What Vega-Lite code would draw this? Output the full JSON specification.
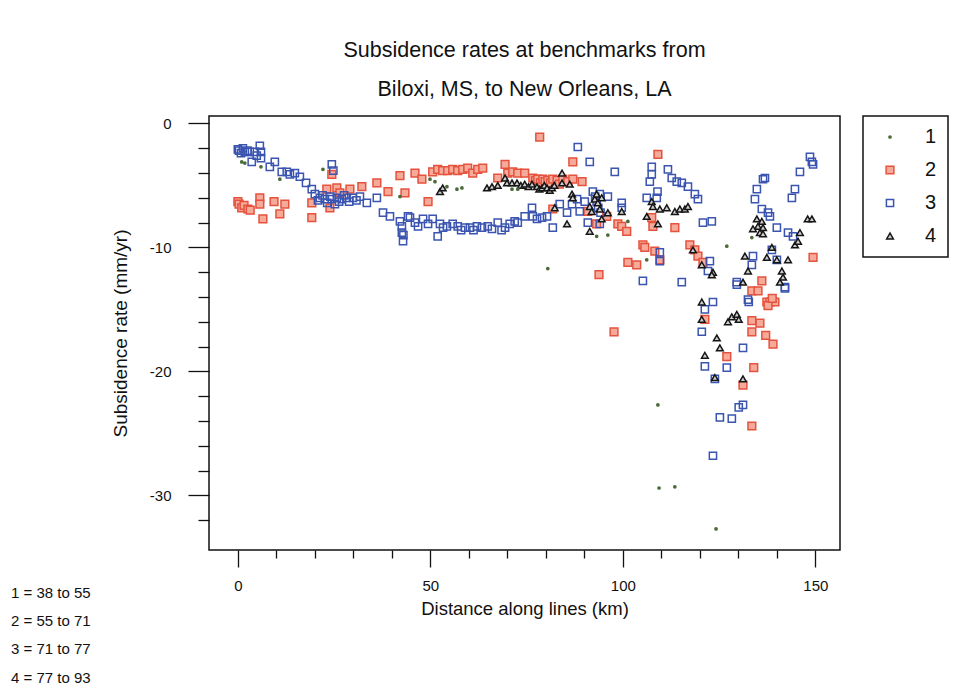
{
  "$schema": "https://vega.github.io/schema/vega-lite/v6.json",
  "autosize": {"type": "none"},
  "padding": {"left": 209, "top": 116, "right": 129, "bottom": 138},
  "width": 631,
  "height": 434,
  "background": "white",
  "title": {
    "text": ["Subsidence rates at benchmarks from", "Biloxi, MS, to New Orleans, LA"],
    "font": "Liberation Sans",
    "fontSize": 21.5,
    "fontWeight": "normal",
    "color": "#111",
    "lineHeight": 39,
    "anchor": "middle",
    "frame": "group",
    "offset": 15
  },
  "datasets": {
    "notes": [
      {"series": 1, "range": "1 = 38 to 55"},
      {"series": 2, "range": "2 = 55 to 71"},
      {"series": 3, "range": "3 = 71 to 77"},
      {"series": 4, "range": "4 = 77 to 93"}
    ]
  },
  "data": {
    "values": [
      {"series":2,"km":0.0,"rate":-6.3},{"series":2,"km":0.3,"rate":-6.5},{"series":2,"km":1.0,"rate":-6.8},{"series":2,"km":1.6,"rate":-6.6},{"series":2,"km":2.6,"rate":-6.9},{"series":2,"km":3.2,"rate":-7.0},{"series":2,"km":5.7,"rate":-6.0},{"series":2,"km":5.7,"rate":-6.5},{"series":2,"km":6.5,"rate":-7.7},{"series":2,"km":9.4,"rate":-6.3},{"series":2,"km":10.9,"rate":-7.3},{"series":2,"km":12.2,"rate":-6.5},{"series":2,"km":19.2,"rate":-7.6},{"series":2,"km":19.2,"rate":-6.4},{"series":2,"km":23.9,"rate":-6.8},{"series":2,"km":23.1,"rate":-5.3},{"series":2,"km":24.4,"rate":-4.1},{"series":2,"km":25.7,"rate":-5.2},{"series":2,"km":26.5,"rate":-5.6},{"series":2,"km":29.1,"rate":-5.3},{"series":2,"km":32.2,"rate":-5.1},{"series":2,"km":36.1,"rate":-4.8},{"series":2,"km":39.0,"rate":-5.5},{"series":2,"km":42.1,"rate":-4.2},{"series":2,"km":43.4,"rate":-5.6},{"series":2,"km":46.0,"rate":-4.0},{"series":2,"km":47.8,"rate":-4.5},{"series":2,"km":49.4,"rate":-6.3},{"series":2,"km":50.6,"rate":-3.9},{"series":2,"km":51.9,"rate":-3.7},{"series":2,"km":53.2,"rate":-3.8},{"series":2,"km":54.5,"rate":-3.8},{"series":2,"km":55.8,"rate":-3.7},{"series":2,"km":57.1,"rate":-3.8},{"series":2,"km":58.4,"rate":-3.7},{"series":2,"km":59.7,"rate":-3.6},{"series":2,"km":61.0,"rate":-4.0},{"series":2,"km":62.3,"rate":-3.7},{"series":2,"km":63.6,"rate":-3.6},{"series":2,"km":67.5,"rate":-4.4},{"series":2,"km":69.4,"rate":-3.3},{"series":2,"km":70.1,"rate":-4.0},{"series":2,"km":71.4,"rate":-3.9},{"series":2,"km":72.7,"rate":-4.0},{"series":2,"km":74.5,"rate":-4.0},{"series":2,"km":76.6,"rate":-4.4},{"series":2,"km":77.3,"rate":-4.6},{"series":2,"km":77.9,"rate":-4.5},{"series":2,"km":78.6,"rate":-4.8},{"series":2,"km":79.2,"rate":-4.5},{"series":2,"km":79.8,"rate":-4.7},{"series":2,"km":80.5,"rate":-4.6},{"series":2,"km":81.2,"rate":-4.8},{"series":2,"km":81.8,"rate":-4.5},{"series":2,"km":82.9,"rate":-4.6},{"series":2,"km":83.5,"rate":-4.9},{"series":2,"km":84.4,"rate":-4.5},{"series":2,"km":85.7,"rate":-4.7},{"series":2,"km":87.0,"rate":-4.5},{"series":2,"km":78.4,"rate":-1.1},{"series":2,"km":87.0,"rate":-3.1},{"series":2,"km":89.4,"rate":-4.7},{"series":2,"km":81.8,"rate":-6.9},{"series":2,"km":90.9,"rate":-7.1},{"series":2,"km":93.2,"rate":-8.1},{"series":2,"km":93.8,"rate":-12.2},{"series":2,"km":98.7,"rate":-8.1},{"series":2,"km":97.7,"rate":-16.8},{"series":2,"km":109.1,"rate":-2.5},{"series":2,"km":95.8,"rate":-7.5},{"series":2,"km":99.7,"rate":-8.3},{"series":2,"km":101.0,"rate":-8.7},{"series":2,"km":107.5,"rate":-7.6},{"series":2,"km":107.8,"rate":-8.3},{"series":2,"km":113.5,"rate":-8.4},{"series":2,"km":105.2,"rate":-9.8},{"series":2,"km":105.7,"rate":-10.0},{"series":2,"km":108.3,"rate":-10.3},{"series":2,"km":101.3,"rate":-11.2},{"series":2,"km":103.6,"rate":-11.4},{"series":2,"km":117.4,"rate":-9.8},{"series":2,"km":118.7,"rate":-10.2},{"series":2,"km":119.5,"rate":-10.7},{"series":2,"km":120.8,"rate":-11.2},{"series":2,"km":109.6,"rate":-11.0},{"series":2,"km":136.1,"rate":-12.7},{"series":2,"km":133.5,"rate":-13.5},{"series":2,"km":135.1,"rate":-13.5},{"series":2,"km":137.4,"rate":-14.4},{"series":2,"km":138.2,"rate":-14.4},{"series":2,"km":139.5,"rate":-14.4},{"series":2,"km":137.7,"rate":-14.7},{"series":2,"km":138.8,"rate":-14.1},{"series":2,"km":149.4,"rate":-10.8},{"series":2,"km":133.5,"rate":-15.9},{"series":2,"km":135.6,"rate":-16.1},{"series":2,"km":133.5,"rate":-16.8},{"series":2,"km":137.1,"rate":-17.1},{"series":2,"km":139.0,"rate":-17.8},{"series":2,"km":127.0,"rate":-18.8},{"series":2,"km":134.0,"rate":-19.7},{"series":2,"km":131.2,"rate":-21.1},{"series":2,"km":133.5,"rate":-24.4},{"series":2,"km":121.3,"rate":-15.8},
      {"series":3,"km":0.0,"rate":-2.1},{"series":3,"km":0.3,"rate":-2.2},{"series":3,"km":0.8,"rate":-2.4},{"series":3,"km":1.3,"rate":-2.0},{"series":3,"km":1.8,"rate":-2.3},{"series":3,"km":2.5,"rate":-2.2},{"series":3,"km":3.1,"rate":-2.3},{"series":3,"km":3.6,"rate":-3.1},{"series":3,"km":4.4,"rate":-2.3},{"series":3,"km":4.9,"rate":-2.6},{"series":3,"km":5.7,"rate":-1.8},{"series":3,"km":6.0,"rate":-2.3},{"series":3,"km":6.0,"rate":-2.8},{"series":3,"km":8.3,"rate":-3.5},{"series":3,"km":9.6,"rate":-3.1},{"series":3,"km":11.4,"rate":-3.9},{"series":3,"km":12.7,"rate":-3.9},{"series":3,"km":13.5,"rate":-4.1},{"series":3,"km":14.8,"rate":-4.0},{"series":3,"km":16.1,"rate":-4.3},{"series":3,"km":17.7,"rate":-4.8},{"series":3,"km":19.2,"rate":-5.3},{"series":3,"km":20.0,"rate":-5.7},{"series":3,"km":20.8,"rate":-6.2},{"series":3,"km":21.3,"rate":-6.0},{"series":3,"km":22.0,"rate":-5.8},{"series":3,"km":22.6,"rate":-6.1},{"series":3,"km":23.2,"rate":-6.4},{"series":3,"km":24.0,"rate":-5.9},{"series":3,"km":24.4,"rate":-6.1},{"series":3,"km":24.4,"rate":-3.3},{"series":3,"km":24.8,"rate":-3.8},{"series":3,"km":25.2,"rate":-6.5},{"series":3,"km":25.7,"rate":-6.0},{"series":3,"km":26.3,"rate":-6.3},{"series":3,"km":27.0,"rate":-6.1},{"series":3,"km":27.6,"rate":-5.8},{"series":3,"km":28.3,"rate":-6.0},{"series":3,"km":28.9,"rate":-6.3},{"series":3,"km":29.9,"rate":-6.0},{"series":3,"km":30.8,"rate":-6.2},{"series":3,"km":31.7,"rate":-5.9},{"series":3,"km":33.5,"rate":-6.4},{"series":3,"km":36.1,"rate":-6.0},{"series":3,"km":37.7,"rate":-7.2},{"series":3,"km":39.5,"rate":-7.5},{"series":3,"km":42.1,"rate":-7.9},{"series":3,"km":42.6,"rate":-8.3},{"series":3,"km":42.6,"rate":-8.8},{"series":3,"km":42.9,"rate":-9.5},{"series":3,"km":43.0,"rate":-9.0},{"series":3,"km":44.2,"rate":-7.5},{"series":3,"km":44.7,"rate":-7.6},{"series":3,"km":46.0,"rate":-8.0},{"series":3,"km":46.8,"rate":-8.3},{"series":3,"km":48.1,"rate":-7.7},{"series":3,"km":49.4,"rate":-8.1},{"series":3,"km":50.6,"rate":-7.7},{"series":3,"km":51.9,"rate":-9.1},{"series":3,"km":52.5,"rate":-8.1},{"series":3,"km":53.3,"rate":-8.4},{"series":3,"km":54.3,"rate":-8.3},{"series":3,"km":55.8,"rate":-8.1},{"series":3,"km":57.1,"rate":-8.3},{"series":3,"km":58.0,"rate":-8.6},{"series":3,"km":59.0,"rate":-8.4},{"series":3,"km":60.3,"rate":-8.4},{"series":3,"km":61.2,"rate":-8.6},{"series":3,"km":62.1,"rate":-8.3},{"series":3,"km":63.4,"rate":-8.4},{"series":3,"km":64.9,"rate":-8.3},{"series":3,"km":66.0,"rate":-8.5},{"series":3,"km":67.5,"rate":-8.0},{"series":3,"km":68.5,"rate":-8.6},{"series":3,"km":69.4,"rate":-8.4},{"series":3,"km":70.6,"rate":-8.1},{"series":3,"km":71.9,"rate":-7.9},{"series":3,"km":72.7,"rate":-8.0},{"series":3,"km":74.5,"rate":-7.5},{"series":3,"km":76.4,"rate":-6.8},{"series":3,"km":76.6,"rate":-7.5},{"series":3,"km":77.7,"rate":-7.7},{"series":3,"km":79.0,"rate":-7.6},{"series":3,"km":80.3,"rate":-7.5},{"series":3,"km":81.8,"rate":-8.4},{"series":3,"km":83.6,"rate":-6.5},{"series":3,"km":85.5,"rate":-7.2},{"series":3,"km":86.8,"rate":-6.5},{"series":3,"km":88.1,"rate":-6.1},{"series":3,"km":88.8,"rate":-7.1},{"series":3,"km":90.1,"rate":-6.3},{"series":3,"km":88.3,"rate":-1.9},{"series":3,"km":91.4,"rate":-3.1},{"series":3,"km":92.2,"rate":-5.5},{"series":3,"km":92.8,"rate":-5.9},{"series":3,"km":93.2,"rate":-6.3},{"series":3,"km":93.6,"rate":-6.8},{"series":3,"km":94.0,"rate":-5.7},{"series":3,"km":94.2,"rate":-7.2},{"series":3,"km":90.9,"rate":-8.0},{"series":3,"km":94.0,"rate":-8.1},{"series":3,"km":96.1,"rate":-5.9},{"series":3,"km":97.9,"rate":-3.9},{"series":3,"km":99.7,"rate":-6.4},{"series":3,"km":99.7,"rate":-6.8},{"series":3,"km":107.5,"rate":-3.5},{"series":3,"km":107.5,"rate":-4.1},{"series":3,"km":107.0,"rate":-4.7},{"series":3,"km":109.0,"rate":-5.5},{"series":3,"km":106.2,"rate":-6.0},{"series":3,"km":108.8,"rate":-6.0},{"series":3,"km":111.7,"rate":-3.7},{"series":3,"km":112.7,"rate":-4.4},{"series":3,"km":114.0,"rate":-4.7},{"series":3,"km":115.3,"rate":-4.8},{"series":3,"km":116.9,"rate":-5.1},{"series":3,"km":118.7,"rate":-5.7},{"series":3,"km":119.5,"rate":-6.1},{"series":3,"km":120.8,"rate":-8.0},{"series":3,"km":123.1,"rate":-7.9},{"series":3,"km":109.6,"rate":-10.4},{"series":3,"km":109.6,"rate":-11.1},{"series":3,"km":105.2,"rate":-12.7},{"series":3,"km":115.3,"rate":-12.8},{"series":3,"km":122.6,"rate":-11.1},{"series":3,"km":122.1,"rate":-11.9},{"series":3,"km":123.4,"rate":-14.4},{"series":3,"km":129.6,"rate":-12.8},{"series":3,"km":132.5,"rate":-14.2},{"series":3,"km":133.5,"rate":-11.4},{"series":3,"km":133.8,"rate":-10.7},{"series":3,"km":134.3,"rate":-6.1},{"series":3,"km":134.8,"rate":-5.3},{"series":3,"km":136.4,"rate":-4.5},{"series":3,"km":136.9,"rate":-4.4},{"series":3,"km":136.1,"rate":-6.9},{"series":3,"km":137.7,"rate":-7.2},{"series":3,"km":138.2,"rate":-7.5},{"series":3,"km":140.0,"rate":-8.4},{"series":3,"km":138.7,"rate":-10.2},{"series":3,"km":140.0,"rate":-11.0},{"series":3,"km":142.1,"rate":-13.2},{"series":3,"km":142.9,"rate":-8.8},{"series":3,"km":144.2,"rate":-9.1},{"series":3,"km":143.9,"rate":-6.0},{"series":3,"km":144.7,"rate":-5.3},{"series":3,"km":146.0,"rate":-3.9},{"series":3,"km":148.6,"rate":-2.7},{"series":3,"km":149.1,"rate":-3.1},{"series":3,"km":149.4,"rate":-3.3},{"series":3,"km":121.3,"rate":-15.0},{"series":3,"km":120.5,"rate":-16.8},{"series":3,"km":131.2,"rate":-18.1},{"series":3,"km":121.3,"rate":-19.6},{"series":3,"km":127.0,"rate":-19.7},{"series":3,"km":123.9,"rate":-20.6},{"series":3,"km":131.2,"rate":-22.7},{"series":3,"km":130.1,"rate":-22.9},{"series":3,"km":125.2,"rate":-23.7},{"series":3,"km":128.3,"rate":-23.8},{"series":3,"km":123.4,"rate":-26.8},{"series":3,"km":129.6,"rate":-13.0},{"series":3,"km":132.7,"rate":-14.4},{"series":3,"km":142.1,"rate":-13.3},
      {"series":4,"km":52.5,"rate":-5.5},{"series":4,"km":53.2,"rate":-5.2},{"series":4,"km":64.7,"rate":-5.2},{"series":4,"km":66.0,"rate":-5.1},{"series":4,"km":67.5,"rate":-5.0},{"series":4,"km":69.4,"rate":-4.4},{"series":4,"km":69.9,"rate":-4.8},{"series":4,"km":71.2,"rate":-4.8},{"series":4,"km":72.5,"rate":-4.8},{"series":4,"km":73.5,"rate":-5.0},{"series":4,"km":74.5,"rate":-4.9},{"series":4,"km":75.5,"rate":-5.1},{"series":4,"km":76.4,"rate":-4.9},{"series":4,"km":77.7,"rate":-5.1},{"series":4,"km":78.3,"rate":-5.3},{"series":4,"km":79.0,"rate":-5.2},{"series":4,"km":79.6,"rate":-5.0},{"series":4,"km":80.3,"rate":-5.2},{"series":4,"km":81.0,"rate":-5.4},{"series":4,"km":81.6,"rate":-5.2},{"series":4,"km":82.2,"rate":-5.0},{"series":4,"km":84.2,"rate":-4.0},{"series":4,"km":84.2,"rate":-4.8},{"series":4,"km":86.2,"rate":-4.9},{"series":4,"km":86.8,"rate":-5.7},{"series":4,"km":82.3,"rate":-6.8},{"series":4,"km":85.5,"rate":-8.1},{"series":4,"km":87.0,"rate":-6.0},{"series":4,"km":91.4,"rate":-6.7},{"series":4,"km":91.9,"rate":-7.1},{"series":4,"km":92.7,"rate":-6.1},{"series":4,"km":93.2,"rate":-5.7},{"series":4,"km":93.5,"rate":-6.4},{"series":4,"km":94.0,"rate":-6.9},{"series":4,"km":91.4,"rate":-8.7},{"series":4,"km":96.1,"rate":-7.2},{"series":4,"km":94.5,"rate":-7.7},{"series":4,"km":99.7,"rate":-7.1},{"series":4,"km":94.5,"rate":-6.0},{"series":4,"km":106.2,"rate":-7.5},{"series":4,"km":107.5,"rate":-6.3},{"series":4,"km":107.8,"rate":-6.7},{"series":4,"km":109.1,"rate":-8.1},{"series":4,"km":109.6,"rate":-6.9},{"series":4,"km":111.4,"rate":-6.8},{"series":4,"km":113.5,"rate":-7.1},{"series":4,"km":114.8,"rate":-6.9},{"series":4,"km":116.1,"rate":-6.9},{"series":4,"km":116.9,"rate":-6.7},{"series":4,"km":118.2,"rate":-10.2},{"series":4,"km":120.5,"rate":-11.4},{"series":4,"km":123.4,"rate":-12.0},{"series":4,"km":134.8,"rate":-7.7},{"series":4,"km":136.1,"rate":-7.9},{"series":4,"km":135.1,"rate":-8.3},{"series":4,"km":136.4,"rate":-8.4},{"series":4,"km":133.8,"rate":-8.5},{"series":4,"km":135.6,"rate":-8.8},{"series":4,"km":136.4,"rate":-8.9},{"series":4,"km":138.7,"rate":-10.0},{"series":4,"km":140.0,"rate":-11.0},{"series":4,"km":142.9,"rate":-11.0},{"series":4,"km":141.3,"rate":-11.9},{"series":4,"km":141.6,"rate":-12.4},{"series":4,"km":140.8,"rate":-12.8},{"series":4,"km":144.7,"rate":-9.8},{"series":4,"km":145.5,"rate":-9.5},{"series":4,"km":146.0,"rate":-8.8},{"series":4,"km":148.0,"rate":-7.7},{"series":4,"km":149.1,"rate":-7.7},{"series":4,"km":131.2,"rate":-12.8},{"series":4,"km":120.5,"rate":-14.4},{"series":4,"km":131.7,"rate":-10.7},{"series":4,"km":123.1,"rate":-12.2},{"series":4,"km":132.5,"rate":-11.9},{"series":4,"km":137.4,"rate":-10.8},{"series":4,"km":120.5,"rate":-15.8},{"series":4,"km":127.3,"rate":-16.0},{"series":4,"km":128.3,"rate":-15.6},{"series":4,"km":129.6,"rate":-15.4},{"series":4,"km":130.1,"rate":-15.8},{"series":4,"km":124.4,"rate":-17.3},{"series":4,"km":125.2,"rate":-18.1},{"series":4,"km":121.3,"rate":-18.7},{"series":4,"km":131.2,"rate":-20.6},{"series":4,"km":123.9,"rate":-20.5},
      {"series":1,"km":1.0,"rate":-3.1},{"series":1,"km":1.8,"rate":-3.2},{"series":1,"km":6.0,"rate":-3.5},{"series":1,"km":10.9,"rate":-4.5},{"series":1,"km":22.1,"rate":-3.7},{"series":1,"km":42.1,"rate":-5.9},{"series":1,"km":49.9,"rate":-4.5},{"series":1,"km":51.2,"rate":-4.7},{"series":1,"km":54.3,"rate":-5.1},{"series":1,"km":56.9,"rate":-5.3},{"series":1,"km":58.2,"rate":-5.2},{"series":1,"km":71.2,"rate":-5.3},{"series":1,"km":72.7,"rate":-5.3},{"series":1,"km":93.2,"rate":-9.1},{"series":1,"km":96.1,"rate":-9.0},{"series":1,"km":80.5,"rate":-11.7},{"series":1,"km":101.3,"rate":-7.9},{"series":1,"km":106.2,"rate":-11.0},{"series":1,"km":127.0,"rate":-9.9},{"series":1,"km":133.5,"rate":-9.2},{"series":1,"km":109.1,"rate":-22.7},{"series":1,"km":109.4,"rate":-29.4},{"series":1,"km":113.5,"rate":-29.3},{"series":1,"km":124.2,"rate":-32.7}
    ]
  },
  "transform": [
    {"lookup": "series", "from": {"data": {"name": "notes"}, "key": "series", "fields": ["range"]}}
  ],
  "mark": {"type": "point", "strokeWidth": 1.5, "opacity": 1},
  "encoding": {
    "x": {
      "field": "km", "type": "quantitative",
      "scale": {"domain": [-7.5, 156.4], "nice": false, "zero": false},
      "axis": {
        "values": [0,10,20,30,40,50,60,70,80,90,100,110,120,130,140,150],
        "domain": false, "grid": false,
        "title": "Distance along lines (km)",
        "titleFont": "Liberation Sans", "titleFontSize": 18.5, "titleFontWeight": "normal", "titleColor": "#111", "titlePadding": 6,
        "labelFont": "Liberation Sans", "labelFontSize": 15, "labelColor": "#111", "labelPadding": 11,
        "labelExpr": "datum.value % 50 === 0 ? '' + datum.value : ''",
        "labelOverlap": false, "labelFlush": false,
        "tickColor": "#111", "tickWidth": 1.3,
        "tickSize": {"condition": {"test": "datum.value % 50 === 0", "value": 17}, "value": 8}
      }
    },
    "y": {
      "field": "rate", "type": "quantitative",
      "scale": {"domain": [-34.4, 0.6], "nice": false, "zero": false},
      "axis": {
        "values": [-32,-30,-28,-26,-24,-22,-20,-18,-16,-14,-12,-10,-8,-6,-4,-2,0],
        "domain": false, "grid": false,
        "title": "Subsidence rate (mm/yr)",
        "titleFont": "Liberation Sans", "titleFontSize": 19, "titleFontWeight": "normal", "titleColor": "#111", "titlePadding": 19,
        "labelFont": "Liberation Sans", "labelFontSize": 15, "labelColor": "#111", "labelPadding": 17,
        "labelExpr": "datum.value % 10 === 0 ? '' + datum.value : ''",
        "labelOverlap": false, "labelFlush": false,
        "tickColor": "#111", "tickWidth": 1.3,
        "tickSize": {"condition": {"test": "datum.value % 10 === 0", "value": 21}, "value": 11}
      }
    },
    "shape": {
      "field": "series", "type": "nominal",
      "scale": {"domain": [1,2,3,4], "range": ["circle", "square", "square", "triangle-up"]},
      "legend": {
        "title": "\u00a0\u00a0\u00a0\u00a0", "titleOrient": "right", "titlePadding": 0,
        "titleFont": "Liberation Sans", "titleFontSize": 20,
        "orient": "right", "offset": 23,
        "strokeColor": "#111", "padding": 11,
        "labelFont": "Liberation Sans", "labelFontSize": 20, "labelColor": "#111",
        "rowPadding": 13, "symbolOffset": 6, "labelOffset": 25
      }
    },
    "stroke": {
      "field": "series", "type": "nominal",
      "scale": {"domain": [1,2,3,4], "range": ["#4b6a38", "#e5523d", "#3a54b0", "#151515"]}
    },
    "fill": {
      "field": "series", "type": "nominal",
      "scale": {"domain": [1,2,3,4], "range": ["#4b6a38", "#f6aa9a", "transparent", "#cfcfcf"]}
    },
    "size": {
      "field": "series", "type": "nominal",
      "scale": {"type": "ordinal", "domain": [1,2,3,4], "range": [5, 60, 52, 45]}
    },
    "opacity": {
      "field": "range", "type": "ordinal",
      "scale": {"range": [1, 1]},
      "legend": {
        "title": null, "orient": "none", "legendX": -213, "legendY": 469,
        "padding": 0, "symbolSize": 0, "symbolOpacity": 0, "symbolStrokeWidth": 0,
        "labelOffset": 0, "labelFont": "Liberation Sans", "labelFontSize": 15, "labelColor": "#111",
        "rowPadding": 12.4
      }
    }
  },
  "config": {
    "view": {"stroke": "#111", "strokeWidth": 1.5},
    "legend": {"strokeWidth": 1.5}
  }
}
